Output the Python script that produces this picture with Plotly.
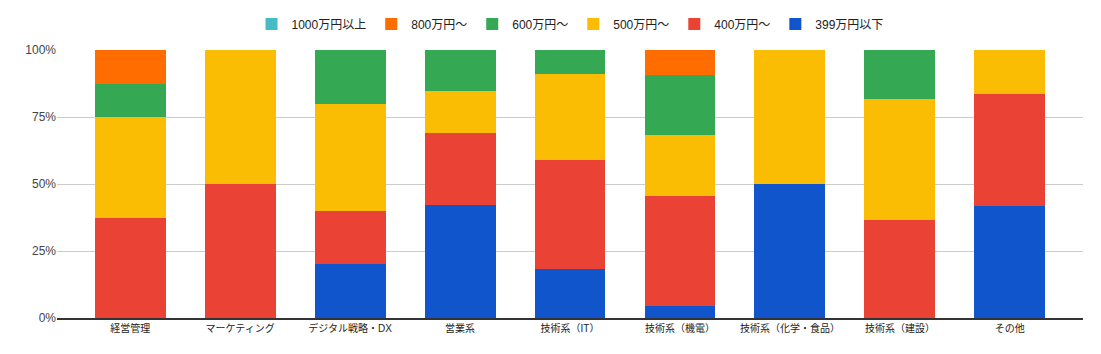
import plotly.graph_objects as go

categories = ["経営管理", "マーケティング", "デジタル戦略・DX", "営業系", "技術系（IT）",
              "技術系（機電）", "技術系（化学・食品）", "技術系（建設）", "その他"]

s_399 = [0, 0, 20, 42.3, 18.2, 4.5, 50, 0, 41.7]
s_400 = [37.5, 50, 20, 26.9, 40.9, 40.9, 0, 36.4, 41.7]
s_500 = [37.5, 50, 40, 15.4, 31.8, 22.7, 50, 45.4, 16.6]
s_600 = [12.5, 0, 20, 15.4, 9.1, 22.7, 0, 18.2, 0]
s_800 = [12.5, 0, 0, 0, 0, 9.2, 0, 0, 0]
s_1000 = [0, 0, 0, 0, 0, 0, 0, 0, 0]

y_ticks = [0, 25, 50, 75, 100]
y_labels = ["0%", "25%", "50%", "75%", "100%"]

series = [
    ("399万円以下", s_399, "#1155CC"),
    ("400万円〜", s_400, "#EA4335"),
    ("500万円〜", s_500, "#FBBC04"),
    ("600万円〜", s_600, "#34A853"),
    ("800万円〜", s_800, "#FF6D01"),
    ("1000万円以上", s_1000, "#46BDC6"),
]

fig = go.Figure()
for name, vals, color in series:
    fig.add_trace(go.Bar(x=categories, y=vals, name=name,
                         marker=dict(color=color, line=dict(width=0))))

fig.update_layout(
    barmode="stack",
    bargap=0.355,
    width=1101, height=354,
    margin=dict(l=57, r=18, t=50, b=36, autoexpand=False),
    paper_bgcolor="white", plot_bgcolor="white",
    font=dict(family="Liberation Sans, Arial, Noto Sans CJK JP, sans-serif", size=12, color="#444444"),
    legend=dict(orientation="h", x=0.5, xanchor="center", y=1.097, yanchor="middle",
                traceorder="reversed",
                font=dict(size=12, color="#222222"), itemwidth=30),
    showlegend=True,
    xaxis=dict(range=[-0.665, 8.665], showgrid=False, showline=True,
               linecolor="#333333", linewidth=1.5, ticks="",
               tickfont=dict(size=10, color="#222222")),
    yaxis=dict(range=[0, 100], tickvals=y_ticks, ticktext=y_labels,
               showgrid=True, gridcolor="#cccccc", gridwidth=1, zeroline=False,
               tickfont=dict(size=12, color="#444444")),
)

fig.write_html("out.html")
